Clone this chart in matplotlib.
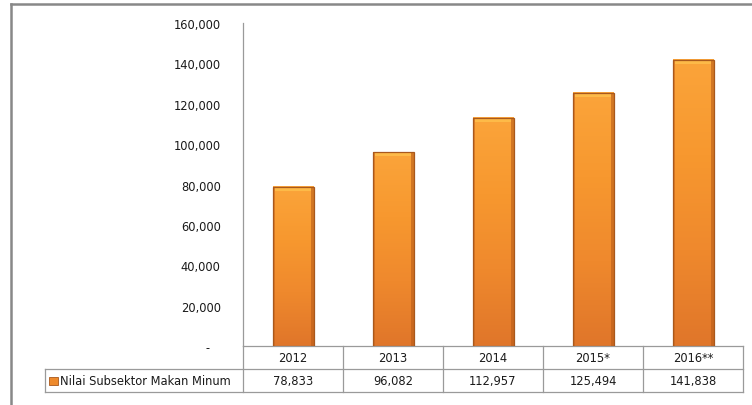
import matplotlib
matplotlib.use("Agg")
import matplotlib.pyplot as plt
import numpy as np
from matplotlib.lines import Line2D
from matplotlib.patches import Rectangle

years = ["2012", "2013", "2014", "2015*", "2016**"]
values = [78833, 96082, 112957, 125494, 141838]
series_name = "Nilai Subsektor Makan Minum"
yticks = [0, 20000, 40000, 60000, 80000, 100000, 120000, 140000, 160000]

W, H = 752, 406
fig = plt.figure(figsize=(W / 100, H / 100), dpi=100)
plt.rcParams['font.family'] = ['DejaVu Sans']
FS = 8.3
GRID = '#9a9a9a'
TXT = '#1a1a1a'

def fx(px):
    return px / W

def fy(py):
    return 1 - py / H

ax_l, ax_r, ax_t, ax_b = 243, 743, 24, 347
ax = fig.add_axes([fx(ax_l), fy(ax_b), (ax_r - ax_l) / W, (ax_b - ax_t) / H])
x = np.arange(len(years))
ax.set_xlim(-0.5, len(years) - 0.5)
ax.set_ylim(0, 160000)

# gradient bars
bw = 0.41
grad = np.linspace(0, 1, 100)
cmap = matplotlib.colors.LinearSegmentedColormap.from_list(
    'o', ['#e0762a', '#ef892d', '#f7982f', '#fba43a'])
for xi, v in zip(x, values):
    img = np.tile(grad[:, None], (1, 10))
    ax.imshow(img, cmap=cmap, extent=[xi - bw / 2, xi + bw / 2, 0, v],
              aspect='auto', origin='lower', zorder=2)
    ax.add_patch(Rectangle((xi - bw / 2, 0), bw * 0.06, v, color='#c8661c', alpha=0.55, lw=0, zorder=3))
    ax.add_patch(Rectangle((xi + bw / 2 - bw * 0.06, 0), bw * 0.06, v, color='#b85c18', alpha=0.6, lw=0, zorder=3))
    ax.add_patch(Rectangle((xi - bw / 2 + bw * 0.06, v - 2200), bw * 0.88, 2200, color='#ffc14d', alpha=0.8, lw=0, zorder=3))
    ax.add_patch(Rectangle((xi - bw / 2, 0), bw, v, fill=False, ec='#a9581c', lw=0.9, zorder=4))

ax.set_yticks(yticks)
ax.set_yticklabels(["-   " if t == 0 else f"{t:,}" for t in yticks], fontsize=FS, color=TXT)
ax.tick_params(axis='y', length=0, pad=16)
ax.set_xticks([])
for s in ['top', 'right']:
    ax.spines[s].set_visible(False)
ax.spines['left'].set_color(GRID)
ax.spines['bottom'].set_color(GRID)
ax.spines['left'].set_linewidth(0.9)
ax.spines['bottom'].set_linewidth(0.9)

# data table
row1_t, row1_b, row2_b = 347, 370, 393
tab_l = 45
col_w = (ax_r - ax_l) / len(years)

def hline(y, x0, x1, c=GRID, lw=0.9):
    fig.add_artist(Line2D([fx(x0), fx(x1)], [fy(y), fy(y)], color=c, lw=lw))

def vline(xp, y0, y1, c=GRID, lw=0.9):
    fig.add_artist(Line2D([fx(xp), fx(xp)], [fy(y0), fy(y1)], color=c, lw=lw))

hline(row1_b, tab_l, ax_r)
hline(row2_b, tab_l, ax_r)
vline(tab_l, row1_b, row2_b)
for i in range(len(years) + 1):
    vline(ax_l + i * col_w, row1_t, row2_b)

for i, (yr, v) in enumerate(zip(years, values)):
    cx = ax_l + (i + 0.5) * col_w
    fig.text(fx(cx), fy((row1_t + row1_b) / 2), yr, ha='center', va='center', fontsize=FS, color=TXT)
    fig.text(fx(cx), fy((row1_b + row2_b) / 2), f"{v:,}", ha='center', va='center', fontsize=FS, color=TXT)

fig.add_artist(Rectangle((fx(49), fy(386)), 9 / W, 8 / H, transform=fig.transFigure,
                         facecolor='#ee8a2c', edgecolor='#a9581c', lw=0.6))
fig.text(fx(60), fy((row1_b + row2_b) / 2), series_name, ha='left', va='center', fontsize=FS, color=TXT)

# outer frame
fig.add_artist(Line2D([fx(10.5), 1], [fy(4.5), fy(4.5)], color='#888888', lw=1.8))
fig.add_artist(Line2D([fx(10.5), fx(10.5)], [fy(4.5), 0], color='#888888', lw=1.8))

fig.savefig("out.png", dpi=100)
